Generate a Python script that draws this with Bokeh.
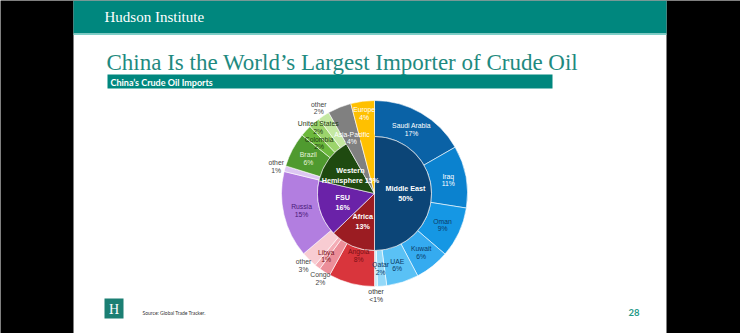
import math
from bokeh.plotting import figure
from bokeh.models import Range1d, ColumnDataSource
from bokeh.core.properties import value
from bokeh.embed import file_html
from bokeh.resources import INLINE

# ---------------- data ----------------
inner_regions = ["Middle East", "Africa", "FSU", "Western\nHemisphere", "Asia-Pacific", "Europe"]
inner_shares = [50.0, 12.8, 15.8, 13.2, 4.1, 4.1]
inner_labels = ["Middle East\n50%", "Africa\n13%", "FSU\n16%", "Western\nHemisphere 15%", "", ""]

outer_names = ["Saudi Arabia", "Iraq", "Oman", "Kuwait", "UAE", "Qatar", "other",
               "Angola", "Congo", "Libya", "other",
               "Russia", "other",
               "Brazil", "Colombia", "United States", "other",
               "Asia-Pacific", "Europe"]
outer_shares = [16.7, 10.8, 8.8, 6.0, 5.6, 1.6, 0.5,
                8.0, 2.0, 1.0, 2.8,
                15.0, 1.0,
                6.0, 2.0, 2.0, 2.0,
                4.1, 4.1]
outer_pct_text = ["17%", "11%", "9%", "6%", "6%", "2%", "<1%",
                  "8%", "2%", "1%", "3%",
                  "15%", "1%",
                  "6%", "2%", "2%", "2%",
                  "4%", "4%"]

# ---------------- styles ----------------
W, H = 740, 333
CX, CY = 374, 193          # pie centre in screen pixels
R_OUT, R_IN = 93, 57

inner_colors = ["#0c4577", "#9b1c22", "#6a22a8", "#1f4a10", "#808080", "#ffc000"]
outer_colors = ["#0a62a6", "#0b82cf", "#1597e4", "#35abf0", "#5ac1f5", "#93d8f8", "#c8ecfb",
                "#d9353c", "#ec8e99", "#f4adb6", "#f8ccd2",
                "#b27ee0", "#dcc7f2",
                "#4f9a2f", "#6cb83d", "#9cd46c", "#c4e8a2",
                "#808080", "#ffc000"]
outer_text_colors = ["white", "white", "#0b3a66", "#0b3a66", "#0b3a66", "#0b3a66", "#333333",
                     "#7a1015", "#444444", "#7a1015", "#444444",
                     "#4a1a7a", "#444444",
                     "#e6f3da", "#1e3a10", "#1e3a10", "#444444",
                     "white", "white"]
# label radius per outer slice (px from centre)
outer_label_r = [74, 75, 75, 75, 75, 75, 102,
                 64, 101, 79, 101,
                 75, 102,
                 75, 75, 87, 102,
                 60, 81]
inner_label_r = [31, 30, 33, 30, 0, 0]

TEAL = "#00877e"


def sy(y):
    return H - y


def wedge_angles(shares):
    total = sum(shares)
    starts, ends, mids = [], [], []
    cum = 0.0
    for s in shares:
        a0 = cum / total
        cum += s
        a1 = cum / total
        # clockwise from 12 o'clock
        starts.append(math.pi / 2 - 2 * math.pi * a1)
        ends.append(math.pi / 2 - 2 * math.pi * a0)
        mids.append((a0 + a1) / 2)
    return starts, ends, mids


p = figure(width=W, height=H, output_backend="svg", toolbar_location=None,
           x_range=Range1d(0, W), y_range=Range1d(0, H), min_border=0)
p.axis.visible = False
p.grid.visible = False
p.outline_line_color = None
p.background_fill_color = "black"
p.border_fill_color = "black"

# slide background & header
p.quad(left=[73], right=[666], bottom=[sy(333)], top=[sy(0)], color="white", line_color=None)
p.quad(left=[73], right=[666], bottom=[sy(33)], top=[sy(0)], color=TEAL, line_color=None)
p.quad(left=[73], right=[666], bottom=[sy(34.5)], top=[sy(33)], color="#7fd0c8", line_color=None)
p.text(x=[104], y=[sy(16.5)], text=["Hudson Institute"], text_font=value("Liberation Serif"),
       text_font_size="15px", text_color="white", text_baseline="middle")

# title
p.text(x=[106], y=[sy(62)], text=["China Is the World\u2019s Largest Importer of Crude Oil"],
       text_font=value("Liberation Serif"), text_font_size="23px", text_color="#1f8a80",
       text_baseline="middle")
# subtitle bar
p.quad(left=[107], right=[552], bottom=[sy(88)], top=[sy(74)], color=TEAL, line_color=None)
p.text(x=[110], y=[sy(81.5)], text=["China\u2019s Crude Oil Imports"], text_font=value("Lato"),
       text_font_style="bold", text_font_size="9px", text_color="white", text_baseline="middle")

# footer
p.quad(left=[104], right=[123], bottom=[sy(318)], top=[sy(298)], color="#1b7f73", line_color=None)
p.text(x=[113.5], y=[sy(308.5)], text=["H"], text_font=value("Liberation Serif"),
       text_font_size="14px", text_color="white", text_align="center", text_baseline="middle")
p.text(x=[142], y=[sy(312)], text=["Source: Global Trade Tracker."], text_font=value("Lato"),
       text_font_size="5px", text_color="#333333", text_baseline="middle")
p.text(x=[628], y=[sy(312)], text=["28"], text_font=value("Lato"), text_font_style="bold",
       text_font_size="9.5px", text_color="#1f9a88", text_baseline="middle")

# ---------------- pie ----------------
o_start, o_end, o_mid = wedge_angles(outer_shares)
i_start, i_end, i_mid = wedge_angles(inner_shares)

outer_src = ColumnDataSource(dict(start=o_start, end=o_end, color=outer_colors))
p.annular_wedge(x=CX, y=sy(CY), inner_radius=R_IN, outer_radius=R_OUT,
                start_angle="start", end_angle="end", color="color",
                line_color="white", line_width=0.6, source=outer_src)

inner_src = ColumnDataSource(dict(start=i_start, end=i_end, color=inner_colors))
p.wedge(x=CX, y=sy(CY), radius=R_IN, start_angle="start", end_angle="end", color="color",
        line_color="white", line_width=0.6, source=inner_src)
# cover inner seams of the unsplit regions so they read as whole wedges
last_in = ColumnDataSource(dict(start=i_start[4:], end=i_end[4:], color=inner_colors[4:]))
p.annular_wedge(x=CX, y=sy(CY), inner_radius=R_IN - 2, outer_radius=R_IN + 2,
                start_angle="start", end_angle="end", color="color", line_color=None,
                source=last_in)

# outer labels
ox, oy, otext = [], [], []
for name, pct, m, r in zip(outer_names, outer_pct_text, o_mid, outer_label_r):
    a = 2 * math.pi * m
    ox.append(CX + r * math.sin(a))
    oy.append(sy(CY - r * math.cos(a)))
    otext.append(f"{name}\n{pct}")
p.text(x=ox, y=oy, text=otext, text_color=outer_text_colors, text_font=value("Liberation Sans"),
       text_font_size="6.8px", text_align="center", text_baseline="middle", text_line_height=1.1)

# inner labels
ix, iy, itext = [], [], []
for lab, m, r in zip(inner_labels, i_mid, inner_label_r):
    if not lab:
        continue
    a = 2 * math.pi * m
    ix.append(CX + r * math.sin(a))
    iy.append(sy(CY - r * math.cos(a)))
    itext.append(lab)
p.text(x=ix, y=iy, text=itext, text_color="white", text_font=value("Liberation Sans"),
       text_font_style="bold", text_font_size="7.2px", text_align="center",
       text_baseline="middle", text_line_height=1.1)

open("out.html", "w").write(file_html(p, INLINE))
